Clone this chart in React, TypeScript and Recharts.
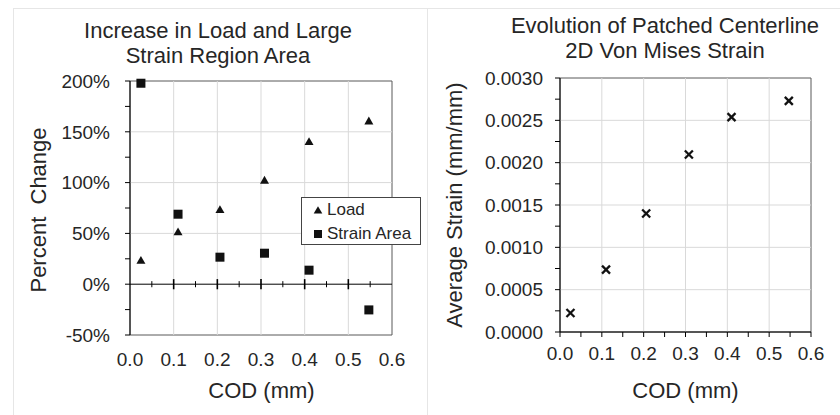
import React from 'react';
import { ScatterChart, Scatter, XAxis, YAxis, ReferenceLine, ReferenceArea, Legend } from 'recharts';

// ---- data ----
const COD = [0.025, 0.11, 0.206, 0.308, 0.41, 0.547];
const LOAD_PCT = [23.9, 51.8, 73.8, 102.7, 140.7, 161];
const STRAIN_AREA_PCT = [197.8, 68.9, 26.6, 30.5, 13.8, -25.3];
const AVG_STRAIN = [0.000225, 0.000737, 0.0014, 0.002097, 0.002538, 0.00273];

// ---- ticks ----
const X_TICKS = [0, 0.1, 0.2, 0.3, 0.4, 0.5, 0.6];
const X_TICKS_FINE = [0, 0.05, 0.1, 0.15, 0.2, 0.25, 0.3, 0.35, 0.4, 0.45, 0.5, 0.55, 0.6];
const X_GRID = [0.1, 0.2, 0.3, 0.4, 0.5];
const X_MINOR = [0.05, 0.15, 0.25, 0.35, 0.45, 0.55];
const PCT_TICKS = [-50, -25, 0, 25, 50, 75, 100, 125, 150, 175, 200];
const PCT_GRID = [50, 100, 150];
const STRAIN_TICKS = [0, 0.00025, 0.0005, 0.00075, 0.001, 0.00125, 0.0015, 0.00175, 0.002, 0.00225, 0.0025, 0.00275, 0.003];
const STRAIN_GRID = [0.0005, 0.001, 0.0015, 0.002, 0.0025];

const FONT = "'Liberation Sans', Arial, sans-serif";
const TEXT = '#262626';
const GRID = '#d9d9d9';
const BORDER = '#595959';
const MARK = '#111';

const loadData = COD.map((x, i) => ({ x, y: LOAD_PCT[i] }));
const areaData = COD.map((x, i) => ({ x, y: STRAIN_AREA_PCT[i] }));
const strainData = COD.map((x, i) => ({ x, y: AVG_STRAIN[i] }));

const Triangle = (p: any) => (
  <polygon
    points={`${p.cx},${p.cy - 4} ${p.cx + 4.5},${p.cy + 3.8} ${p.cx - 4.5},${p.cy + 3.8}`}
    fill={MARK}
  />
);
const Square = (p: any) => <rect x={p.cx - 4.5} y={p.cy - 4.5} width={9} height={9} fill={MARK} />;
const XMark = (p: any) => (
  <g stroke={MARK} strokeWidth={2.3}>
    <line x1={p.cx - 4} y1={p.cy - 4} x2={p.cx + 4} y2={p.cy + 4} />
    <line x1={p.cx - 4} y1={p.cy + 4} x2={p.cx + 4} y2={p.cy - 4} />
  </g>
);

const LegendBox = (props: any) => {
  const payload = props.payload || [];
  return (
    <div
      style={{
        width: 120,
        height: 48,
        boxSizing: 'border-box',
        border: '1px solid #444',
        background: '#fff',
        fontFamily: FONT,
        fontSize: 17,
        color: TEXT,
      }}
    >
      {payload.map((e: any, i: number) => (
        <div key={i} style={{ height: 24, display: 'flex', alignItems: 'center', paddingLeft: 11 }}>
          <svg width={10} height={10} style={{ marginRight: 4 }}>
            {e.value === 'Load' ? (
              <polygon points="5,1.2 9.3,8.6 0.7,8.6" fill={MARK} />
            ) : (
              <rect x={1} y={1} width={8} height={8} fill={MARK} />
            )}
          </svg>
          <span style={{ lineHeight: '24px' }}>{e.value}</span>
        </div>
      ))}
    </div>
  );
};

const tickStyle = { fontSize: 19, fill: TEXT, fontFamily: FONT };

export default function App() {
  return (
    <div style={{ position: 'absolute', left: 0, top: 0, width: 840, height: 415, background: '#fff', overflow: 'hidden' }}>
      {/* panel frames */}
      <div style={{ position: 'absolute', left: 13, top: 8, width: 827, height: 1, background: '#e6e6e6' }} />
      <div style={{ position: 'absolute', left: 13, top: 8, width: 1, height: 407, background: '#e6e6e6' }} />
      <div style={{ position: 'absolute', left: 427, top: 8, width: 1, height: 407, background: '#e6e6e6' }} />

      {/* left chart */}
      <div style={{ position: 'absolute', left: 0, top: 0 }}>
        <ScatterChart width={432} height={415} margin={{ top: 81, right: 40, bottom: 40, left: 0 }}>
          <XAxis
            type="number"
            dataKey="x"
            domain={[0, 0.6]}
            ticks={X_TICKS}
            interval={0}
            axisLine={false}
            tickLine={false}
            tickSize={5}
            tickMargin={13}
            height={40}
            tick={tickStyle}
            tickFormatter={(v: number) => v.toFixed(1)}
          />
          <YAxis
            type="number"
            dataKey="y"
            domain={[-50, 200]}
            ticks={PCT_TICKS}
            interval={0}
            width={130}
            axisLine={{ stroke: '#000' }}
            tickLine={{ stroke: '#000' }}
            tickSize={5}
            tickMargin={15}
            tick={tickStyle}
            tickFormatter={(v: number) => (v % 50 === 0 ? `${v}%` : '')}
          />
          {PCT_GRID.map((v) => (
            <ReferenceLine key={'h' + v} y={v} stroke={GRID} strokeWidth={1} />
          ))}
          {X_GRID.map((v) => (
            <ReferenceLine key={'v' + v} x={v} stroke={GRID} strokeWidth={1} />
          ))}
          <ReferenceArea x1={0} x2={0.6} y1={-50} y2={200} fill="none" stroke={BORDER} strokeWidth={1} />
          <ReferenceLine y={0} stroke="#000" strokeWidth={1} />
          {X_GRID.map((v) => (
            <ReferenceLine key={'mt' + v} segment={[{ x: v, y: -5 }, { x: v, y: 5 }]} stroke="#000" strokeWidth={1.6} />
          ))}
          {X_MINOR.map((v) => (
            <ReferenceLine key={'nt' + v} segment={[{ x: v, y: -3 }, { x: v, y: 3 }]} stroke="#000" strokeWidth={1} />
          ))}
          <Scatter name="Load" data={loadData} shape={Triangle} isAnimationActive={false} legendType="triangle" />
          <Scatter name="Strain Area" data={areaData} shape={Square} isAnimationActive={false} legendType="square" />
          <Legend
            layout="vertical"
            align="center"
            verticalAlign="middle"
            content={LegendBox}
            wrapperStyle={{ left: 301, top: 197, width: 120, height: 48, bottom: 'auto', right: 'auto' }}
          />
        </ScatterChart>
      </div>

      {/* right chart */}
      <div style={{ position: 'absolute', left: 420, top: 0 }}>
        <ScatterChart width={420} height={415} margin={{ top: 78, right: 29, bottom: 43, left: 0 }}>
          <XAxis
            type="number"
            dataKey="x"
            domain={[0, 0.6]}
            ticks={X_TICKS_FINE}
            interval={0}
            axisLine={{ stroke: '#000' }}
            tickLine={{ stroke: '#000' }}
            tickSize={5}
            tickMargin={10}
            height={40}
            tick={tickStyle}
            tickFormatter={(v: number) => (Math.round(v * 100) % 10 === 0 ? v.toFixed(1) : '')}
          />
          <YAxis
            type="number"
            dataKey="y"
            domain={[0, 0.003]}
            ticks={STRAIN_TICKS}
            interval={0}
            width={140}
            axisLine={{ stroke: '#000' }}
            tickLine={{ stroke: '#000' }}
            tickSize={5}
            tickMargin={12}
            tick={tickStyle}
            tickFormatter={(v: number) => (Math.round(v / 0.00025) % 2 === 0 ? v.toFixed(4) : '')}
          />
          {STRAIN_GRID.map((v) => (
            <ReferenceLine key={'h' + v} y={v} stroke={GRID} strokeWidth={1} />
          ))}
          {X_GRID.map((v) => (
            <ReferenceLine key={'v' + v} x={v} stroke={GRID} strokeWidth={1} />
          ))}
          <ReferenceArea x1={0} x2={0.6} y1={0} y2={0.003} fill="none" stroke={BORDER} strokeWidth={1} />
          <Scatter name="Average Strain" data={strainData} shape={XMark} isAnimationActive={false} />
        </ScatterChart>
      </div>

      {/* titles and axis titles */}
      <svg
        width={840}
        height={415}
        style={{ position: 'absolute', left: 0, top: 0, pointerEvents: 'none' }}
        fontFamily={FONT}
        fontSize={22}
        fill={TEXT}
      >
        <text x={218} y={37.5} textAnchor="middle">Increase in Load and Large</text>
        <text x={218} y={63} textAnchor="middle">Strain Region Area</text>
        <text x={665} y={33.3} textAnchor="middle">Evolution of Patched Centerline</text>
        <text x={665} y={58.3} textAnchor="middle">2D Von Mises Strain</text>
        <text x={261.5} y={398} textAnchor="middle">COD (mm)</text>
        <text x={685.5} y={398} textAnchor="middle">COD (mm)</text>
        <text x={46} y={210} textAnchor="middle" transform="rotate(-90 46 210)" style={{ whiteSpace: 'pre' }}>
          {'Percent  Change'}
        </text>
        <text x={462} y={205} textAnchor="middle" transform="rotate(-90 462 205)">
          Average Strain (mm/mm)
        </text>
      </svg>
    </div>
  );
}
